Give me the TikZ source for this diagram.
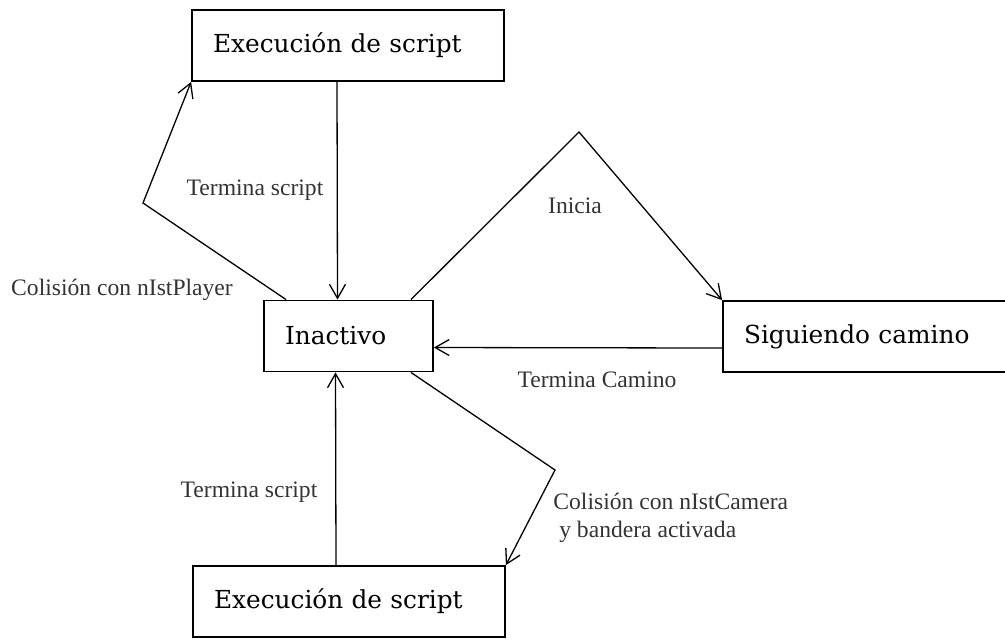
\documentclass[tikz,border=0pt]{standalone}
\usepackage{fontspec}
\setmainfont{Liberation Serif}
\newfontfamily\boxfont{DejaVu Serif}
\usetikzlibrary{arrows.meta}

\tikzset{
  state/.style={draw, line width=0.9pt, font=\boxfont\fontsize{12.4}{14}\selectfont,
    align=left, inner xsep=10.5pt, inner ysep=0pt, minimum height=35.5pt},
  lbl/.style={font=\fontsize{11.8}{14}\selectfont, text=black!80},
  trans/.style={line width=0.65pt, -{Straight Barb[length=7pt,width=8pt]}}
}

\begin{document}
\begin{tikzpicture}[x=0.5pt,y=-0.5pt]
\useasboundingbox (0,0) rectangle (1005,639);
\node[state, text width=135pt] (scriptA) at (348,45.5) {Execución de script};
\node[state, text width=63.5pt] (inact) at (348.5,336) {Inactivo};
\node[state, text width=130pt] (camino) at (874,336.5) {Siguiendo camino};
\node[state, text width=135pt] (scriptB) at (349,601.5) {Execución de script};

\coordinate (kneeP) at (143,203);
\coordinate (kneeI) at (579,132);
\coordinate (kneeC) at (555,470);

% transitions
\draw[trans] ([xshift=-5.5pt]scriptA.south) -- ([xshift=-5.5pt]inact.north);
\draw[trans] ([xshift=11.5pt]inact.north west) -- (kneeP) -- (scriptA.south west);
\draw[trans] ([xshift=-11.5pt]inact.north east) -- (kneeI) -- (camino.north west);
\draw[trans] ([yshift=-5.75pt]camino.west) -- ([yshift=-5.75pt]inact.east);
\draw[trans] ([xshift=-11.5pt]inact.south east) -- (kneeC) -- (scriptB.north east);
\draw[trans] ([xshift=-6.5pt]scriptB.north) -- ([xshift=-6.5pt]inact.south);

\node[lbl] (tA) at (255,190) {Termina script};
\node[lbl] (colP) at (122,290) {Colisión con nIstPlayer};
\node[lbl] (ini) at (575,206) {Inicia};
\node[lbl] (tC) at (597,380) {Termina Camino};
\node[lbl, align=left, anchor=west, inner sep=0pt] (colC) at (553,518) {Colisión con nIstCamera\\\ y bandera activada};
\node[lbl] (tB) at (249,492) {Termina script};
\end{tikzpicture}
\end{document}
